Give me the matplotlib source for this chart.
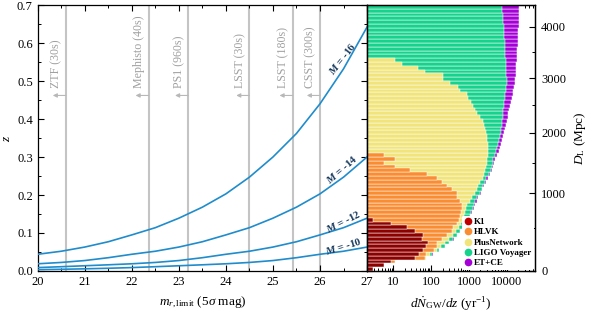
import numpy as np
import matplotlib
matplotlib.use('Agg')
import matplotlib.pyplot as plt
from matplotlib.ticker import MultipleLocator, LogLocator, FuncFormatter, NullFormatter, FixedLocator, FormatStrFormatter
from matplotlib.lines import Line2D

plt.rcParams['font.family'] = ['Liberation Serif', 'DejaVu Serif']
plt.rcParams['mathtext.fontset'] = 'custom'
plt.rcParams['mathtext.rm'] = 'Liberation Serif'
plt.rcParams['mathtext.it'] = 'Liberation Serif:italic'
plt.rcParams['mathtext.bf'] = 'Liberation Serif:bold'
plt.rcParams['mathtext.bfit'] = 'Liberation Serif:italic:bold'

# ---------------- data: left panel ----------------
mag = [20, 20.5, 21, 21.5, 22, 22.5, 23, 23.5, 24, 24.5, 25, 25.5, 26, 26.5, 27]
z_M16 = [0.044, 0.052, 0.063, 0.077, 0.095, 0.114, 0.139, 0.168, 0.203, 0.247, 0.300, 0.362, 0.440, 0.532, 0.642]
z_M14 = [0.019, 0.0225, 0.0275, 0.035, 0.044, 0.052, 0.063, 0.077, 0.095, 0.114, 0.139, 0.168, 0.203, 0.247, 0.300]
z_M12 = [0.009, 0.0113, 0.0138, 0.0163, 0.019, 0.0225, 0.0275, 0.035, 0.044, 0.052, 0.063, 0.077, 0.095, 0.114, 0.139]
z_M10 = [0.0035, 0.0045, 0.0057, 0.0072, 0.009, 0.0113, 0.0138, 0.0163, 0.019, 0.0225, 0.0275, 0.035, 0.044, 0.052, 0.063]
curve_labels = ['M = -16', 'M = -14', 'M = -12', 'M = -10']

surveys = ['ZTF (30s)', 'Mephisto (40s)', 'PS1 (960s)', 'LSST (30s)', 'LSST (180s)', 'CSST (300s)']
survey_mag = [20.6, 22.36, 23.2, 24.5, 25.42, 26.0]

# ---------------- data: right panel (dN/dz per z bin of width 0.01) ----------------
z_bin_lo = [round(0.01 * i, 2) for i in range(70)]
etce = [2.9, 5.7, 11, 75, 110, 165, 230, 300, 390, 480, 590, 700, 820, 950, 1080, 1200, 1330, 1450, 1610, 1770,
        2050, 2260, 2510, 2780, 3150, 3700, 4010, 4270, 4620, 4900, 5640, 6140, 6650, 7070, 7510, 7980, 8490, 9020, 9580, 10000,
        10620, 11020, 11500, 12220, 12760, 13560, 14410, 15000, 15600, 16200, 16900, 17100, 17300, 17630, 18000, 18400, 18600, 18800, 19100, 19300,
        19500, 19920, 20100, 20290, 20500, 20800, 21000, 21180, 21300, 21550]
voyager = [2.9, 5.7, 11, 74, 107, 160, 225, 290, 380, 470, 575, 680, 800, 920, 1050, 1160, 1280, 1390, 1480, 1610,
           1970, 2180, 2400, 2600, 2830, 3470, 3750, 4010, 4200, 4430, 4900, 5250, 5640, 6000, 6370, 6650, 6950, 7150, 7380, 7600,
           7850, 8000, 8130, 8300, 8490, 8850, 9200, 9580, 9750, 9900, 10000, 9850, 9700, 9580, 9450, 9300, 9150, 9020, 8950, 8850,
           8750, 8650, 8520, 8400, 8250, 8130, 7950, 7750, 7550, 7380]
plusnet = [2.9, 5.7, 11, 73, 95, 140, 180, 230, 300, 370, 450, 540, 620, 700, 740, 800, 850, 900, 1050, 1190,
           1450, 1610, 1770, 1970, 2320, 2510, 2670, 2830, 2960, 3070, 3140, 3260, 3260, 3140, 3070, 2960, 2830, 2670, 2510, 2320,
           1970, 1610, 1450, 1310, 1150, 965, 870, 580, 520, 316, 210, 203, 69, 46, 16.7, 11, 0, 0, 0, 0,
           0, 0, 0, 0, 0, 0, 0, 0, 0, 0]
hlvk = [2.9, 5.7, 11, 70, 72, 119, 140, 145, 191, 268, 351, 373, 475, 550, 582, 600, 645, 645, 582, 493,
        475, 351, 259, 191, 143, 76, 28, 11, 5.7, 11, 5.7] + [0] * 39
k1 = [2.9, 5.7, 8.5, 37.5, 48.7, 62, 73, 84, 56, 62, 37.5, 22.6, 8.5, 2.9] + [0] * 56

networks = ['K1', 'HLVK', 'PlusNetwork', 'LIGO Voyager', 'ET+CE']
net_values = [k1, hlvk, plusnet, voyager, etce]
net_colors = ['#8c0000', '#fa8c32', '#f0e47a', '#16d28c', '#a500d7']
legend_colors = ['#c00000', '#fa8c32', '#f0e47a', '#16d28c', '#a500d7']

# D_L axis ticks (Mpc) and their redshift positions
dl_major = [0, 1000, 2000, 3000, 4000]
z_dl_major = [0.0, 0.2045, 0.364, 0.507, 0.643]
z_dl_minor = [0.113, 0.284, 0.437, 0.577]

# ---------------- figure ----------------
fig = plt.figure(figsize=(5.92, 3.22), dpi=100)
ax1 = fig.add_axes([0.0637, 0.1584, 0.5563, 0.826])
ax2 = fig.add_axes([0.620, 0.1584, 0.2837, 0.826])

curve_color = '#1f8ccc'
label_color = '#173a5e'
gray_line = '#c4c4c4'
gray_text = '#a0a0a0'

for m, name in zip(survey_mag, surveys):
    ax1.axvline(m, color=gray_line, lw=1.5, zorder=1)
    ax1.text(m - 0.07, 0.482, name, rotation=90, ha='right', va='bottom',
             color=gray_text, fontsize=8.6)
    ax1.annotate('', xy=(m - 0.28, 0.462), xytext=(m, 0.462),
                 arrowprops=dict(arrowstyle='-|>', color='#b8b8b8', lw=0.8,
                                 mutation_scale=6, shrinkA=0, shrinkB=0))

for zc in [z_M16, z_M14, z_M12, z_M10]:
    ax1.plot(mag, zc, color=curve_color, lw=1.2, zorder=3)

lab_pos = [(26.47, 0.558, 52), (26.45, 0.268, 41), (26.49, 0.129, 27), (26.5, 0.065, 17)]
for txt, (mx, zy, rot) in zip(curve_labels, lab_pos):
    ax1.text(mx, zy, r'$\mathbfit{M}$' + txt[1:], rotation=rot, ha='center', va='center',
             color=label_color, fontsize=7.8, fontweight='bold', rotation_mode='anchor')

ax1.set_xlim(20, 27)
ax1.set_ylim(0, 0.7)
ax1.xaxis.set_major_locator(MultipleLocator(1))
ax1.xaxis.set_minor_locator(MultipleLocator(0.5))
ax1.yaxis.set_major_locator(MultipleLocator(0.1))
ax1.yaxis.set_minor_locator(MultipleLocator(0.05))
ax1.yaxis.set_major_formatter(FormatStrFormatter('%.1f'))
ax1.tick_params(which='both', direction='in', top=True, right=True, labelsize=9)
ax1.tick_params(which='major', length=4, width=0.8)
ax1.tick_params(which='minor', length=2.2, width=0.7)
ax1.set_xlabel(r'$m_{r,\rm limit}$ (5$\sigma$ mag)', fontsize=9.5, labelpad=5)
ax1.set_ylabel(r'$z$', fontsize=9.5, labelpad=3)

# ---------------- right panel ----------------
z_centers = np.array(z_bin_lo) + 0.005
base = 1.0
for vals, col in zip(net_values[::-1], net_colors[::-1]):
    v = np.array(vals, dtype=float)
    mask = v > 0
    ax2.barh(z_centers[mask], v[mask] - base, left=base, height=0.01,
             color=col, edgecolor='white', linewidth=0.35, zorder=2)

ax2.set_xscale('log')
ax2.set_xlim(2, 5.6e4)
ax2.set_ylim(0, 0.7)
ax2.xaxis.set_major_locator(LogLocator(base=10, numticks=10))
ax2.xaxis.set_minor_locator(LogLocator(base=10, subs=np.arange(2, 10), numticks=20))
ax2.xaxis.set_major_formatter(FuncFormatter(lambda x, p: '%d' % round(x) if 5 < x < 5e4 else ''))
ax2.xaxis.set_minor_formatter(NullFormatter())
ax2.yaxis.set_major_locator(MultipleLocator(0.1))
ax2.yaxis.set_minor_locator(MultipleLocator(0.05))
ax2.tick_params(which='both', direction='in', top=True, right=False, left=True,
                labelleft=False, labelsize=9)
ax2.tick_params(which='major', length=4, width=0.8)
ax2.tick_params(which='minor', length=2.2, width=0.7)
ax2.set_xlabel(r'$d\dot{N}_{\rm GW}/dz$ (yr$^{-1}$)', fontsize=9.5, labelpad=5)

ax3 = ax2.twinx()
ax3.set_ylim(0, 0.7)
ax3.yaxis.set_major_locator(FixedLocator(z_dl_major))
ax3.yaxis.set_minor_locator(FixedLocator(z_dl_minor))
ax3.set_yticklabels([str(d) for d in dl_major])
ax3.tick_params(which='both', direction='in', labelsize=9, pad=4.5)
ax3.tick_params(which='major', length=4, width=0.8)
ax3.tick_params(which='minor', length=2.2, width=0.7)
ax3.set_ylabel(r'$D_{\rm L}$ (Mpc)', fontsize=9.5, labelpad=4)

handles = [Line2D([], [], marker='o', ls='none', color=c, markersize=4.5) for c in legend_colors]
leg = ax3.legend(handles, networks, loc='lower right', bbox_to_anchor=(1.0, 0.0),
                 prop={'weight': 'bold', 'size': 6.5}, frameon=True,
                 facecolor='white', edgecolor='none', framealpha=1,
                 handlelength=0.8, handletextpad=0.3, labelspacing=0.22,
                 borderpad=0.25, borderaxespad=0.15)

for ax in (ax1, ax2, ax3):
    for s in ax.spines.values():
        s.set_linewidth(0.9)

fig.savefig('out.png', dpi=100)
